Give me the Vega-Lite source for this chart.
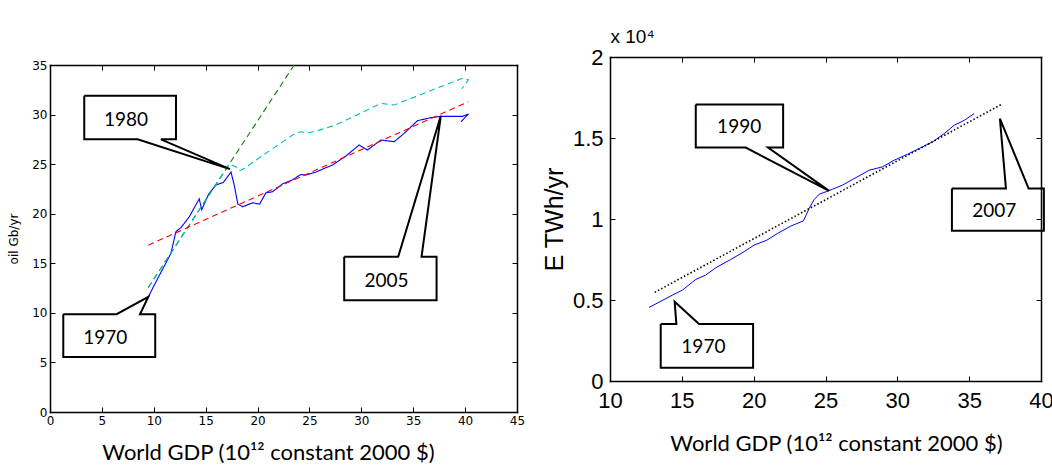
{
  "$schema": "https://vega.github.io/schema/vega-lite/v6.json",
  "padding": {"left": 7, "top": 27, "right": 2, "bottom": 3},
  "config": {
    "view": {"stroke": null},
    "axis": {"domain": true, "domainColor": "black", "domainWidth": 1.5, "domainCap": "square", "grid": false, "tickColor": "black", "tickSize": -5, "tickWidth": 1, "labelColor": "black", "titleColor": "black", "titleFontWeight": "normal", "labelFlush": false, "labelOverlap": false},
    "concat": {"spacing": 17}
  },
  "datasets": {
    "oil": [
      {"series": "data", "i": 1, "gdp": 9.47, "oil": 11.61},
      {"series": "data", "i": 2, "gdp": 10.53, "oil": 13.77},
      {"series": "data", "i": 3, "gdp": 11.65, "oil": 15.99},
      {"series": "data", "i": 4, "gdp": 12.13, "oil": 18.18},
      {"series": "data", "i": 5, "gdp": 12.62, "oil": 18.6},
      {"series": "data", "i": 6, "gdp": 13.42, "oil": 19.69},
      {"series": "data", "i": 7, "gdp": 14.38, "oil": 21.5},
      {"series": "data", "i": 8, "gdp": 14.62, "oil": 20.4},
      {"series": "data", "i": 9, "gdp": 15.3, "oil": 22.0},
      {"series": "data", "i": 10, "gdp": 16.0, "oil": 22.9},
      {"series": "data", "i": 11, "gdp": 16.7, "oil": 23.15},
      {"series": "data", "i": 12, "gdp": 17.44, "oil": 24.2},
      {"series": "data", "i": 13, "gdp": 17.75, "oil": 22.89},
      {"series": "data", "i": 14, "gdp": 18.1, "oil": 20.97},
      {"series": "data", "i": 15, "gdp": 18.56, "oil": 20.7},
      {"series": "data", "i": 16, "gdp": 19.52, "oil": 21.1},
      {"series": "data", "i": 17, "gdp": 20.2, "oil": 20.97},
      {"series": "data", "i": 18, "gdp": 20.8, "oil": 22.11},
      {"series": "data", "i": 19, "gdp": 21.44, "oil": 22.21},
      {"series": "data", "i": 20, "gdp": 22.4, "oil": 23.0},
      {"series": "data", "i": 21, "gdp": 23.37, "oil": 23.42},
      {"series": "data", "i": 22, "gdp": 24.17, "oil": 23.96},
      {"series": "data", "i": 23, "gdp": 24.65, "oil": 23.9},
      {"series": "data", "i": 24, "gdp": 25.62, "oil": 24.2},
      {"series": "data", "i": 25, "gdp": 26.42, "oil": 24.57},
      {"series": "data", "i": 26, "gdp": 27.22, "oil": 24.91},
      {"series": "data", "i": 27, "gdp": 28.51, "oil": 25.82},
      {"series": "data", "i": 28, "gdp": 29.79, "oil": 26.93},
      {"series": "data", "i": 29, "gdp": 30.59, "oil": 26.42},
      {"series": "data", "i": 30, "gdp": 31.88, "oil": 27.43},
      {"series": "data", "i": 31, "gdp": 33.16, "oil": 27.26},
      {"series": "data", "i": 32, "gdp": 34.12, "oil": 28.1},
      {"series": "data", "i": 33, "gdp": 35.41, "oil": 29.38},
      {"series": "data", "i": 34, "gdp": 36.69, "oil": 29.69},
      {"series": "data", "i": 35, "gdp": 37.66, "oil": 29.82},
      {"series": "data", "i": 36, "gdp": 39.74, "oil": 29.82},
      {"series": "data", "i": 37, "gdp": 40.32, "oil": 30.06},
      {"series": "data", "i": 38, "gdp": 39.6, "oil": 29.28},
      {"series": "exp", "i": 1, "gdp": 9.47, "oil": 12.56},
      {"series": "exp", "i": 2, "gdp": 23.53, "oil": 35.0},
      {"series": "trend", "i": 1, "gdp": 9.47, "oil": 12.56},
      {"series": "trend", "i": 2, "gdp": 17.3, "oil": 25.0},
      {"series": "trend", "i": 3, "gdp": 17.92, "oil": 24.73},
      {"series": "trend", "i": 4, "gdp": 18.24, "oil": 24.33},
      {"series": "trend", "i": 5, "gdp": 18.72, "oil": 24.57},
      {"series": "trend", "i": 6, "gdp": 20.8, "oil": 26.1},
      {"series": "trend", "i": 7, "gdp": 23.37, "oil": 27.93},
      {"series": "trend", "i": 8, "gdp": 24.17, "oil": 28.27},
      {"series": "trend", "i": 9, "gdp": 24.98, "oil": 28.17},
      {"series": "trend", "i": 10, "gdp": 25.94, "oil": 28.43},
      {"series": "trend", "i": 11, "gdp": 27.54, "oil": 28.95},
      {"series": "trend", "i": 12, "gdp": 29.79, "oil": 30.06},
      {"series": "trend", "i": 13, "gdp": 31.88, "oil": 31.13},
      {"series": "trend", "i": 14, "gdp": 33.16, "oil": 30.97},
      {"series": "trend", "i": 15, "gdp": 35.25, "oil": 31.81},
      {"series": "trend", "i": 16, "gdp": 37.5, "oil": 32.75},
      {"series": "trend", "i": 17, "gdp": 39.74, "oil": 33.66},
      {"series": "trend", "i": 18, "gdp": 40.32, "oil": 33.5},
      {"series": "trend", "i": 19, "gdp": 39.7, "oil": 32.6},
      {"series": "linear", "i": 1, "gdp": 9.47, "oil": 16.83},
      {"series": "linear", "i": 2, "gdp": 40.32, "oil": 31.3}
    ],
    "oilCallouts": [
      {"id": "1980", "i": 1, "gdp": 3.3, "oil": 31.9},
      {"id": "1980", "i": 2, "gdp": 12.14, "oil": 31.9},
      {"id": "1980", "i": 3, "gdp": 12.14, "oil": 27.5},
      {"id": "1980", "i": 4, "gdp": 10.69, "oil": 27.5},
      {"id": "1980", "i": 5, "gdp": 17.34, "oil": 24.5},
      {"id": "1980", "i": 6, "gdp": 8.44, "oil": 27.5},
      {"id": "1980", "i": 7, "gdp": 3.3, "oil": 27.5},
      {"id": "1980", "i": 8, "gdp": 3.3, "oil": 31.9},
      {"id": "1970", "i": 1, "gdp": 1.28, "oil": 9.86},
      {"id": "1970", "i": 2, "gdp": 6.42, "oil": 9.86},
      {"id": "1970", "i": 3, "gdp": 9.47, "oil": 11.61},
      {"id": "1970", "i": 4, "gdp": 8.67, "oil": 9.86},
      {"id": "1970", "i": 5, "gdp": 10.14, "oil": 9.86},
      {"id": "1970", "i": 6, "gdp": 10.14, "oil": 5.56},
      {"id": "1970", "i": 7, "gdp": 1.28, "oil": 5.56},
      {"id": "1970", "i": 8, "gdp": 1.28, "oil": 9.86},
      {"id": "2005", "i": 1, "gdp": 28.35, "oil": 15.65},
      {"id": "2005", "i": 2, "gdp": 33.55, "oil": 15.65},
      {"id": "2005", "i": 3, "gdp": 37.66, "oil": 29.88},
      {"id": "2005", "i": 4, "gdp": 35.8, "oil": 15.65},
      {"id": "2005", "i": 5, "gdp": 37.25, "oil": 15.65},
      {"id": "2005", "i": 6, "gdp": 37.25, "oil": 11.28},
      {"id": "2005", "i": 7, "gdp": 28.35, "oil": 11.28},
      {"id": "2005", "i": 8, "gdp": 28.35, "oil": 15.65}
    ],
    "oilLabels": [
      {"label": "1980", "gdp": 7.32, "oil": 29.5},
      {"label": "1970", "gdp": 5.33, "oil": 7.5},
      {"label": "2005", "gdp": 32.43, "oil": 13.25}
    ],
    "elec": [
      {"i": 1, "gdp": 12.72, "e": 4540},
      {"i": 2, "gdp": 14.34, "e": 5300},
      {"i": 3, "gdp": 15.04, "e": 5610},
      {"i": 4, "gdp": 15.97, "e": 6270},
      {"i": 5, "gdp": 16.66, "e": 6540},
      {"i": 6, "gdp": 17.36, "e": 6990},
      {"i": 7, "gdp": 18.4, "e": 7500},
      {"i": 8, "gdp": 19.33, "e": 7980},
      {"i": 9, "gdp": 20.03, "e": 8390},
      {"i": 10, "gdp": 20.91, "e": 8690},
      {"i": 11, "gdp": 21.66, "e": 9110},
      {"i": 12, "gdp": 22.58, "e": 9560},
      {"i": 13, "gdp": 23.47, "e": 9890},
      {"i": 14, "gdp": 23.86, "e": 10650},
      {"i": 15, "gdp": 24.21, "e": 11200},
      {"i": 16, "gdp": 24.56, "e": 11530},
      {"i": 17, "gdp": 25.09, "e": 11700},
      {"i": 18, "gdp": 25.49, "e": 11840},
      {"i": 19, "gdp": 26.18, "e": 12090},
      {"i": 20, "gdp": 26.88, "e": 12440},
      {"i": 21, "gdp": 27.46, "e": 12720},
      {"i": 22, "gdp": 28.04, "e": 13010},
      {"i": 23, "gdp": 28.97, "e": 13220},
      {"i": 24, "gdp": 29.78, "e": 13630},
      {"i": 25, "gdp": 30.71, "e": 14000},
      {"i": 26, "gdp": 31.52, "e": 14350},
      {"i": 27, "gdp": 32.45, "e": 14760},
      {"i": 28, "gdp": 33.26, "e": 15270},
      {"i": 29, "gdp": 33.96, "e": 15790},
      {"i": 30, "gdp": 34.66, "e": 16090},
      {"i": 31, "gdp": 35.35, "e": 16510}
    ],
    "elecFit": [
      {"gdp": 13.11, "e": 5470},
      {"gdp": 37.26, "e": 17080}
    ],
    "elecCallouts": [
      {"id": "1990", "i": 1, "gdp": 15.97, "e": 17061},
      {"id": "1990", "i": 2, "gdp": 22.05, "e": 17061},
      {"id": "1990", "i": 3, "gdp": 22.05, "e": 14409},
      {"id": "1990", "i": 4, "gdp": 21.0, "e": 14409},
      {"id": "1990", "i": 5, "gdp": 25.25, "e": 11737},
      {"id": "1990", "i": 6, "gdp": 19.45, "e": 14409},
      {"id": "1990", "i": 7, "gdp": 15.97, "e": 14409},
      {"id": "1990", "i": 8, "gdp": 15.97, "e": 17061},
      {"id": "1970", "i": 1, "gdp": 13.53, "e": 3515},
      {"id": "1970", "i": 2, "gdp": 14.62, "e": 3515},
      {"id": "1970", "i": 3, "gdp": 14.5, "e": 4892},
      {"id": "1970", "i": 4, "gdp": 16.2, "e": 3515},
      {"id": "1970", "i": 5, "gdp": 19.96, "e": 3515},
      {"id": "1970", "i": 6, "gdp": 19.96, "e": 822},
      {"id": "1970", "i": 7, "gdp": 13.53, "e": 822},
      {"id": "1970", "i": 8, "gdp": 13.53, "e": 3515},
      {"id": "2007", "i": 1, "gdp": 33.8, "e": 11880},
      {"id": "2007", "i": 2, "gdp": 37.56, "e": 11880},
      {"id": "2007", "i": 3, "gdp": 37.14, "e": 16200},
      {"id": "2007", "i": 4, "gdp": 39.14, "e": 11880},
      {"id": "2007", "i": 5, "gdp": 40.2, "e": 11880},
      {"id": "2007", "i": 6, "gdp": 40.2, "e": 9270},
      {"id": "2007", "i": 7, "gdp": 33.8, "e": 9270},
      {"id": "2007", "i": 8, "gdp": 33.8, "e": 11880}
    ],
    "elecLabels": [
      {"label": "1990", "gdp": 18.99, "e": 15650},
      {"label": "1970", "gdp": 16.5, "e": 2080},
      {"label": "2007", "gdp": 36.75, "e": 10480}
    ]
  },
  "hconcat": [
    {
      "width": 467,
      "height": 355,
      "layer": [
        {
          "data": {"name": "oil"},
          "mark": {"type": "line", "strokeWidth": 1.1, "clip": true},
          "encoding": {
            "x": {"field": "gdp", "type": "quantitative", "scale": {"domain": [0, 45], "nice": false, "zero": false},
              "axis": {"orient": "bottom", "values": [0, 5, 10, 15, 20, 25, 30, 35, 40, 45], "title": "World GDP (10¹² constant 2000 $)", "titleFont": "Lato", "titleFontSize": 22, "titleX": 218, "titlePadding": 16, "labelFont": "DejaVu Sans", "labelFontSize": 12, "labelPadding": 8}},
            "y": {"field": "oil", "type": "quantitative", "scale": {"domain": [0, 35], "range": [355, 8], "nice": false, "zero": false},
              "axis": {"orient": "left", "values": [0, 5, 10, 15, 20, 25, 30, 35], "title": "oil Gb/yr", "titleFont": "DejaVu Sans", "titleFontSize": 12, "titlePadding": 11, "labelFont": "DejaVu Sans", "labelFontSize": 12, "labelPadding": 8}},
            "color": {"field": "series", "type": "nominal", "scale": {"domain": ["data", "exp", "trend", "linear"], "range": ["#0000ff", "#008000", "#00bfbf", "#ff0000"]}, "legend": null},
            "strokeDash": {"field": "series", "type": "nominal", "scale": {"domain": ["data", "exp", "trend", "linear"], "range": [[1, 0], [6, 4], [6, 4], [6, 4]]}, "legend": null},
            "order": {"field": "i", "type": "quantitative"}
          }
        },
        {
          "data": {"name": "oilCallouts"},
          "mark": {"type": "line", "color": "black", "strokeWidth": 2, "strokeJoin": "miter"},
          "encoding": {
            "x": {"field": "gdp", "type": "quantitative", "scale": {"domain": [0, 45], "nice": false, "zero": false},
              "axis": {"orient": "top", "offset": -8, "labels": false, "values": [0, 5, 10, 15, 20, 25, 30, 35, 40, 45], "title": null}},
            "y": {"field": "oil", "type": "quantitative", "scale": {"domain": [0, 35], "range": [355, 8], "nice": false, "zero": false},
              "axis": {"orient": "right", "labels": false, "values": [0, 5, 10, 15, 20, 25, 30, 35], "title": null}},
            "detail": {"field": "id", "type": "nominal"},
            "order": {"field": "i", "type": "quantitative"}
          }
        },
        {
          "data": {"name": "oilLabels"},
          "mark": {"type": "text", "font": "Lato", "fontSize": 19, "color": "black", "align": "center", "baseline": "middle"},
          "encoding": {
            "x": {"field": "gdp", "type": "quantitative", "scale": {"domain": [0, 45], "nice": false, "zero": false}, "axis": null},
            "y": {"field": "oil", "type": "quantitative", "scale": {"domain": [0, 35], "range": [355, 8], "nice": false, "zero": false}, "axis": null},
            "text": {"field": "label"}
          }
        }
      ],
      "resolve": {"axis": {"x": "independent", "y": "independent"}}
    },
    {
      "width": 431,
      "height": 324,
      "layer": [
        {
          "data": {"name": "elec"},
          "mark": {"type": "line", "clip": true, "color": "#0000ff", "strokeWidth": 1},
          "encoding": {
            "x": {"field": "gdp", "type": "quantitative", "scale": {"domain": [10, 40], "nice": false, "zero": false},
              "axis": {"orient": "bottom", "values": [10, 15, 20, 25, 30, 35, 40], "title": "World GDP (10¹² constant 2000 $)", "titleFont": "Lato", "titleFontSize": 22, "titleX": 226, "titlePadding": 22, "labelFont": "Liberation Sans", "labelFontSize": 22, "labelPadding": 14}},
            "y": {"field": "e", "type": "quantitative", "scale": {"domain": [0, 20000], "nice": false, "zero": false},
              "axis": {"orient": "left", "values": [0, 5000, 10000, 15000, 20000], "labelExpr": "datum.value / 10000", "title": "E TWh/yr", "titleFont": "Liberation Sans", "titleFontSize": 25, "titlePadding": 5, "labelFont": "Liberation Sans", "labelFontSize": 22, "labelPadding": 12}},
            "order": {"field": "i", "type": "quantitative"}
          }
        },
        {
          "data": {"name": "elecFit"},
          "mark": {"type": "line", "clip": true, "color": "black", "strokeWidth": 1.6, "strokeDash": [1.5, 2.2]},
          "encoding": {
            "x": {"field": "gdp", "type": "quantitative", "scale": {"domain": [10, 40], "nice": false, "zero": false}, "axis": null},
            "y": {"field": "e", "type": "quantitative", "scale": {"domain": [0, 20000], "nice": false, "zero": false}, "axis": null}
          }
        },
        {
          "data": {"name": "elecCallouts"},
          "mark": {"type": "line", "color": "black", "strokeWidth": 2, "strokeJoin": "miter"},
          "encoding": {
            "x": {"field": "gdp", "type": "quantitative", "scale": {"domain": [10, 40], "nice": false, "zero": false},
              "axis": {"orient": "top", "labels": false, "values": [10, 15, 20, 25, 30, 35, 40], "title": "x 10⁴", "titleAnchor": "start", "titleAlign": "left", "titleFont": "Liberation Sans", "titleFontSize": 19, "titlePadding": 10}},
            "y": {"field": "e", "type": "quantitative", "scale": {"domain": [0, 20000], "nice": false, "zero": false},
              "axis": {"orient": "right", "labels": false, "values": [0, 5000, 10000, 15000, 20000], "title": null}},
            "detail": {"field": "id", "type": "nominal"},
            "order": {"field": "i", "type": "quantitative"}
          }
        },
        {
          "data": {"name": "elecLabels"},
          "mark": {"type": "text", "font": "Lato", "fontSize": 19, "color": "black", "align": "center", "baseline": "middle"},
          "encoding": {
            "x": {"field": "gdp", "type": "quantitative", "scale": {"domain": [10, 40], "nice": false, "zero": false}, "axis": null},
            "y": {"field": "e", "type": "quantitative", "scale": {"domain": [0, 20000], "nice": false, "zero": false}, "axis": null},
            "text": {"field": "label"}
          }
        }
      ],
      "resolve": {"axis": {"x": "independent", "y": "independent"}}
    }
  ]
}
